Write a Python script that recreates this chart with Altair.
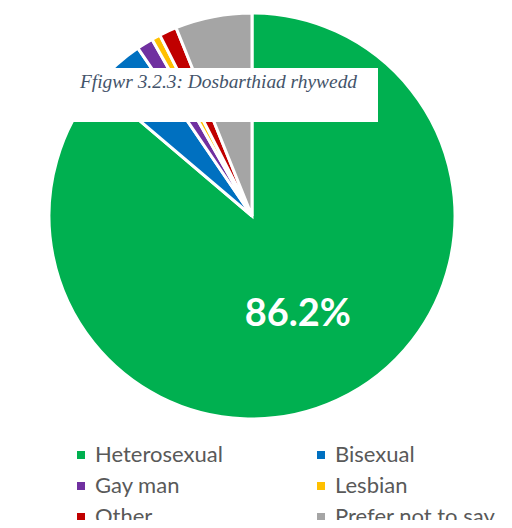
import altair as alt
import pandas as pd

categories = ["Heterosexual", "Bisexual", "Gay man", "Lesbian", "Other", "Prefer not to say"]
values = [86.2, 4.3, 1.3, 0.7, 1.4, 6.1]
colors = ["#00B050", "#0070C0", "#7030A0", "#FFC000", "#C00000", "#A5A5A5"]
title_text = "Ffigwr 3.2.3: Dosbarthiad rhywedd"

df = pd.DataFrame({"cat": categories, "val": values, "idx": list(range(len(categories)))})
df["label"] = ["86.2%", "", "", "", "", ""]

CX, CY, R = 244, 208, 203

base = alt.Chart(df).encode(
    theta=alt.Theta("val:Q", stack=True),
    order=alt.Order("idx:Q"),
)

pie = base.mark_arc(outerRadius=R, stroke="white", strokeWidth=3).encode(
    x=alt.value(CX), y=alt.value(CY),
    color=alt.Color(
        "cat:N",
        scale=alt.Scale(domain=categories, range=colors),
        sort=categories,
        legend=alt.Legend(
            title=None, orient="none", legendX=62, legendY=436, columns=2,
            direction="horizontal",
            symbolType="square", symbolSize=64, symbolStrokeWidth=0,
            labelFontSize=22, labelColor="#595959", labelFont="Lato",
            labelOffset=3, columnPadding=87, rowPadding=9, labelLimit=300,
        ),
    ),
)

pct = base.mark_text(radius=109, fontSize=38, fontWeight="bold", color="white", font="Lato").encode(
    x=alt.value(CX), y=alt.value(CY), text="label:N"
)

box = alt.Chart(pd.DataFrame({"t": [title_text]})).mark_rect(color="white").encode(
    x=alt.value(0), x2=alt.value(370), y=alt.value(60), y2=alt.value(114)
)
title = alt.Chart(pd.DataFrame({"t": [title_text]})).mark_text(
    font="Liberation Serif", fontStyle="italic", fontSize=19.4, color="#44546A", align="left", baseline="alphabetic"
).encode(x=alt.value(72), y=alt.value(80), text="t:N")

chart = alt.layer(pie, pct, box, title).properties(
    width=496, height=512, padding=0, autosize=alt.AutoSizeParams(type="none")
).configure_view(stroke=None)

chart.save("out.html", embed_options={"renderer": "svg", "actions": False})
